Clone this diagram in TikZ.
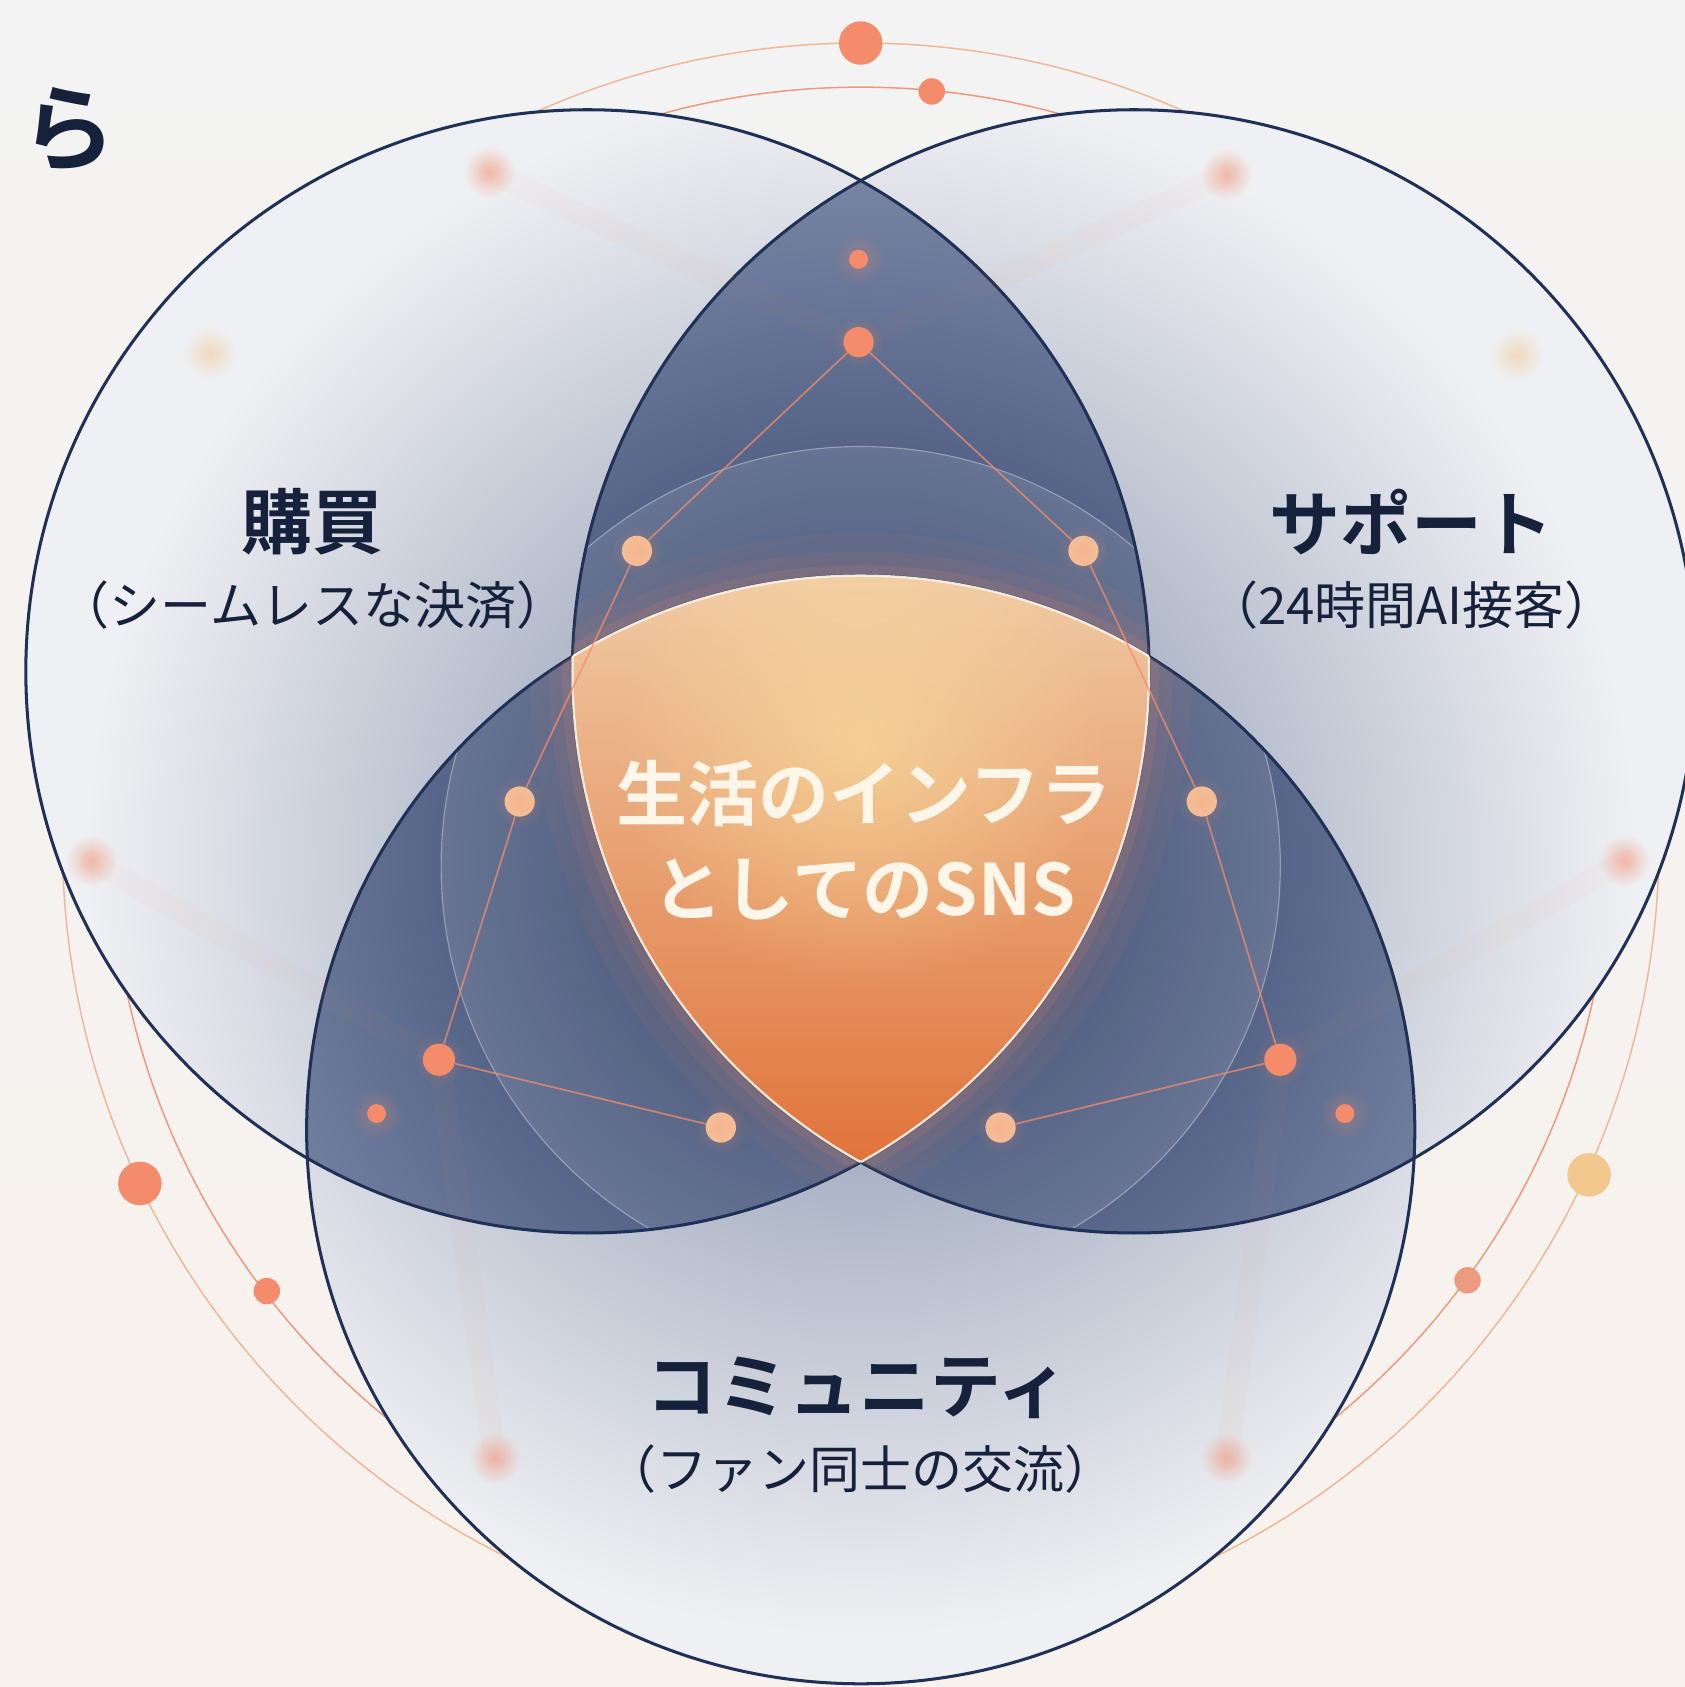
\documentclass[tikz,border=0pt]{standalone}
\usepackage{fontspec}
\usepackage{tikz}
\usetikzlibrary{fadings}
\newfontfamily\jp{Noto Sans CJK JP}[BoldFont={Noto Sans CJK JP Bold}]

\definecolor{paper}{HTML}{F3F3F3}
\definecolor{paperwarm}{HTML}{F8F2EC}
\definecolor{navy}{HTML}{1F3156}
\definecolor{ink}{HTML}{16213B}
\definecolor{mist}{HTML}{EFF0F3}
\definecolor{slate}{HTML}{7E8AA6}
\definecolor{deep}{HTML}{22325A}
\definecolor{dusk}{HTML}{8290AE}
\definecolor{coral}{HTML}{F48C6C}
\definecolor{peach}{HTML}{F4C59E}
\definecolor{sand}{HTML}{F3C88F}
\definecolor{apricot}{HTML}{F0B898}
\definecolor{salmon}{HTML}{EC9A80}
\definecolor{blush}{HTML}{F0CBA6}
\definecolor{amber}{HTML}{F1B566}
\definecolor{ember}{HTML}{E0733A}
\definecolor{butter}{HTML}{FBE3A0}
\definecolor{cream}{HTML}{FFF6EA}

\tikzfading[name=softglow, inner color=transparent!0, outer color=transparent!100]

\begin{document}
\begin{tikzpicture}[x=0.02cm, y=-0.02cm,
    ring/.style={draw=navy, line width=1.6pt},
    orbit/.style={draw=#1, line width=0.8pt},
    link/.style={draw=coral, draw opacity=0.75, line width=0.9pt},
    ray/.style={draw=coral, draw opacity=0.035, line width=12pt, line cap=round},
    dot/.style={circle, fill=#1, inner sep=0pt},
    halo/.style={fill=#1, path fading=softglow},
    label/.style={text=ink, font=\jp\bfseries\fontsize{37.5}{40}\selectfont},
    sublabel/.style={text=ink, font=\jp\fontsize{27}{30}\selectfont},
    centre/.style={text=cream, font=\jp\bfseries\fontsize{37.5}{50}\selectfont, align=center}]

  \useasboundingbox (0,0) rectangle (1566,1568);
  \shade[top color=paper, bottom color=paperwarm] (0,0) rectangle (1566,1568);

  \coordinate (buy) at (546,624);
  \coordinate (care) at (1054,624);
  \coordinate (fans) at (800,1050);
  \coordinate (hub) at (800,800);

  \draw[orbit=apricot] (800,782) circle (742);
  \draw[orbit=salmon] (800,778) circle (697);

  % single areas, then the three lenses
  \foreach \c/\r in {buy/522, care/522, fans/515} {
    \begin{scope}
      \clip (\c) circle (\r);
      \fill[mist] (\c) circle (\r);
      \shade[inner color=slate, outer color=mist] (hub) circle (720);
    \end{scope}
  }
  \foreach \a/\ra/\b/\rb in {buy/522/care/522, buy/522/fans/515, care/522/fans/515} {
    \begin{scope}
      \clip (\a) circle (\ra);
      \clip (\b) circle (\rb);
      \shade[inner color=deep, outer color=dusk] (hub) circle (720);
      \fill[white, fill opacity=0.10] (800,805) circle (390);
      \draw[white, draw opacity=0.35, line width=0.6pt] (800,805) circle (390);
    \end{scope}
  }

  \foreach \c/\r in {buy/522, care/522, fans/515}
    \draw[ring] (\c) circle (\r);

  \foreach \c/\r/\p/\pr/\q/\qr in {buy/522/care/522/fans/515, care/522/buy/522/fans/515, fans/515/buy/522/care/522} {
    \begin{scope}
      \clip (\p) circle (\pr);
      \clip (\q) circle (\qr);
      \foreach \w/\o in {45/0.05, 25/0.08, 11/0.12}
        \draw[coral, draw opacity=\o, line width=\w pt] (\c) circle (\r);
    \end{scope}
  }

  \begin{scope}
    \clip (buy) circle (522);
    \clip (care) circle (522);
    \clip (fans) circle (515);
    \shade[top color=blush, middle color=amber, bottom color=ember] (520,530) rectangle (1080,1085);
    \fill[butter, path fading=softglow, fill opacity=0.6] (800,690) circle (230);
  \end{scope}
  \foreach \c/\r/\p/\pr/\q/\qr in {buy/522/care/522/fans/515, care/522/buy/522/fans/515, fans/515/buy/522/care/522} {
    \begin{scope}
      \clip (\p) circle (\pr);
      \clip (\q) circle (\qr);
      \draw[cream, draw opacity=0.9, line width=1.2pt] (\c) circle (\r);
    \end{scope}
  }

  \foreach \n/\x/\y/\col in {h1/455/160/coral, h2/1140/162/coral, h3/195/328/sand, h4/1410/330/sand,
                             h5/85/800/coral, h6/1510/800/coral, h7/460/1355/coral, h8/1140/1355/coral} {
    \coordinate (\n) at (\x,\y);
    \fill[halo=\col, fill opacity=0.55] (\n) circle (24);
  }

  \foreach \n/\x/\y/\s in {t1/798/241/10, t2/798/318/16, a3/408/985/17, b3/1190/985/17, a5/350/1035/10, b5/1250/1035/10}
    \node[dot=coral, minimum size=\s pt] (\n) at (\x,\y) {};
  \foreach \n/\x/\y in {a1/592/512, b1/1007/512, a2/483/745, b2/1117/745, a4/670/1048, b4/930/1048}
    \node[dot=peach, minimum size=16pt] (\n) at (\x,\y) {};

  \draw[ray] (t2) -- (h1);
  \draw[ray] (t2) -- (h2);
  \draw[ray] (a3) -- (h5);
  \draw[ray] (b3) -- (h6);
  \draw[ray] (a3) -- (h7);
  \draw[ray] (b3) -- (h8);
  \draw[link] (t2) -- (a1) -- (a2) -- (a3) -- (a4);
  \draw[link] (t2) -- (b1) -- (b2) -- (b3) -- (b4);
  \foreach \n in {t1, t2, a1, a2, a3, a4, a5, b1, b2, b3, b4, b5}
    \fill[halo=coral, fill opacity=0.3] (\n) circle (24);

  \foreach \n/\x/\y/\s/\col in {o1/800/40/23/coral, o2/866/85/14/coral, o3/130/1100/23/coral,
                                o4/248/1200/14/coral, o5/1477/1092/23/sand, o6/1364/1190/14/salmon}
    \node[dot=\col, minimum size=\s pt] (\n) at (\x,\y) {};

  \node[label] (buyname) at (290,485) {購買};
  \node[sublabel] (buynote) at (291,562) {（シームレスな決済）};
  \node[label] (carename) at (1312,485) {サポート};
  \node[sublabel] (carenote) at (1312,562) {（24時間AI接客）};
  \node[label] (fansname) at (797,1290) {コミュニティ};
  \node[sublabel] (fansnote) at (800,1365) {（ファン同士の交流）};
  \node[centre] (hubname) at (803,781) {生活のインフラ\\としてのSNS};
  \node[label, font=\jp\bfseries\fontsize{50}{52}\selectfont] (cut) at (64,120) {ら};
\end{tikzpicture}
\end{document}
